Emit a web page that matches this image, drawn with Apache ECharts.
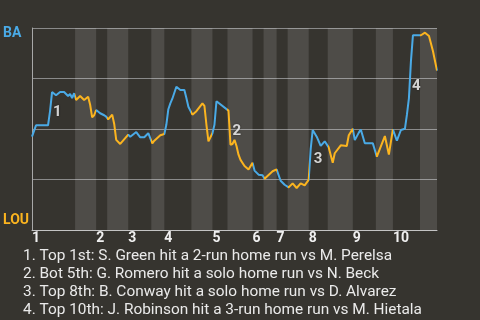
<!DOCTYPE html>
<html>
<head>
<meta charset="utf-8">
<script src="https://cdn.jsdelivr.net/npm/echarts@6/dist/echarts.min.js"></script>
<style>
html,body{margin:0;padding:0;background:#36342f;}
#chart{width:480px;height:320px;}
</style>
</head>
<body>
<div id="chart"></div>
<script>
// Play index (x) and BA win probability (y)
const playX = [0,2,8,9,10,12,14,16,18,19,20,21,22,24,26,28,29,30,31,32,34,36,37,38,40,41,42,44,48,49,52,54,56,58,60,61,64,66,67,68,69,70,72,74,76,77,78,80,82,85,86,87,88,90,91,92,98,99,100,101,102,103,104,106,108,110,111,113,115,116,120,122,124,126,128,130,132,134,136,138,139,140,142,144,146,148,150,151,154,157,158,160,161,163,164,166,170,172,176,178,179,180,182,184,186,187,188,189,190,194,196,198,200,202];
const baWinProb = [0.462,0.518,0.518,0.589,0.683,0.667,0.683,0.683,0.663,0.673,0.653,0.677,0.644,0.663,0.644,0.660,0.620,0.558,0.568,0.594,0.578,0.568,0.561,0.548,0.571,0.525,0.446,0.426,0.472,0.462,0.485,0.459,0.459,0.479,0.429,0.442,0.469,0.475,0.521,0.598,0.627,0.650,0.709,0.693,0.693,0.653,0.610,0.571,0.588,0.627,0.614,0.521,0.439,0.479,0.521,0.637,0.591,0.422,0.426,0.446,0.416,0.373,0.347,0.317,0.300,0.333,0.294,0.274,0.271,0.254,0.291,0.300,0.244,0.224,0.211,0.231,0.208,0.231,0.221,0.248,0.400,0.495,0.462,0.416,0.439,0.409,0.333,0.380,0.419,0.416,0.469,0.501,0.445,0.482,0.498,0.429,0.429,0.363,0.465,0.373,0.436,0.498,0.442,0.495,0.501,0.571,0.653,0.835,0.964,0.964,0.977,0.960,0.885,0.789];
// Bottom half-innings (LOU batting): [start, end] in play units
const bottomHalves = [[21.5,32],[37.5,48],[59.5,66],[79.5,90],[97.5,110],[115.5,122],[127.5,138],[147.5,160],[171.5,180],[193.5,202]];
// Inning starts and labels
const inningStarts = [0,32,48,66,90,110,122,138,160,180];
const inningLabels = ['1','2','3','4','5','6','7','8','9','10'];
// Key events: index of the play before the jump, and the marker text
const eventIdx = [2,56,79,104];
const eventMarks = ['1','2','3','4'];
const notes = [
  '1. Top 1st: S. Green hit a 2-run home run vs M. Perelsa',
  '2. Bot 5th: G. Romero hit a solo home run vs N. Beck',
  '3. Top 8th: B. Conway hit a solo home run vs D. Alvarez',
  '4. Top 10th: J. Robinson hit a 3-run home run vs M. Hietala'
];
const teamTop = 'BA', teamBottom = 'LOU';

const BLUE = '#4aaae6', ORANGE = '#fbb41f';
const lineData = playX.map((x, i) => [x, baWinProb[i]]);
const eventData = eventIdx.map((k, i) => {
  let j = k + 1;
  while (j + 1 < baWinProb.length && Math.sign(baWinProb[j + 1] - baWinProb[j]) === Math.sign(baWinProb[k + 1] - baWinProb[k]) && Math.abs(baWinProb[j + 1] - baWinProb[j]) > 0.05) j++;
  return { value: [(playX[k] + playX[j]) / 2, (baWinProb[k] + baWinProb[j]) / 2], name: eventMarks[i] };
});

const chart = echarts.init(document.getElementById('chart'));
chart.setOption({
  backgroundColor: '#36342f',
  animation: false,
  textStyle: { fontFamily: 'Roboto' },
  title: {
    text: notes.join('\n'),
    left: 18, top: 242,
    textStyle: { color: '#eaeaea', fontSize: 15.4, fontWeight: 'normal', lineHeight: 18, fontFamily: 'Roboto' }
  },
  grid: { left: 32, right: 43, top: 28, bottom: 90 },
  xAxis: {
    type: 'value', min: 0, max: 202,
    axisLine: { show: true, lineStyle: { color: '#c4c4c4', width: 1 } },
    axisTick: { show: false },
    splitLine: { show: false },
    axisLabel: {
      customValues: inningStarts,
      formatter: v => inningLabels[inningStarts.indexOf(v)] || '',
      color: '#f0f0f0', fontSize: 14, fontWeight: 'bold', align: 'left', margin: 1, verticalAlign: 'top'
    }
  },
  yAxis: {
    type: 'value', min: 0, max: 1, interval: 0.25,
    axisLine: { show: true, lineStyle: { color: '#a8a8a8', width: 1 } },
    axisTick: { show: false },
    splitLine: { show: true, lineStyle: { color: '#8a8a8a', width: 1 } },
    axisLabel: {
      customValues: [0, 1],
      formatter: v => v === 1 ? '{t|' + teamTop + '}' : '{b|' + teamBottom + '}',
      align: 'left', margin: 29,
      rich: {
        t: { color: BLUE, fontSize: 14, fontWeight: 'bold', padding: [10, 0, 0, 0] },
        b: { color: ORANGE, fontSize: 14, fontWeight: 'bold', padding: [0, 0, 19, 0] }
      }
    }
  },
  visualMap: {
    show: false, type: 'piecewise', seriesIndex: 0, dimension: 0,
    pieces: bottomHalves.map(h => ({ gte: h[0], lt: h[1], color: ORANGE })),
    outOfRange: { color: BLUE }
  },
  series: [
    {
      type: 'line', data: lineData, symbol: 'none', lineStyle: { width: 2 },
      markArea: {
        silent: true,
        itemStyle: { color: 'rgba(255,255,255,0.12)' },
        data: bottomHalves.map(h => [{ xAxis: h[0] }, { xAxis: h[1] }])
      },
      z: 3
    },
    {
      type: 'scatter', data: eventData, symbolSize: 0, z: 4,
      label: {
        show: true, position: 'right', distance: 3, offset: [0, 4],
        formatter: p => p.name,
        color: '#ffffff', fontSize: 15, fontWeight: 'bold',
        textShadowColor: 'rgba(0,0,0,0.6)', textShadowBlur: 2
      }
    }
  ]
});
</script>
</body>
</html>
